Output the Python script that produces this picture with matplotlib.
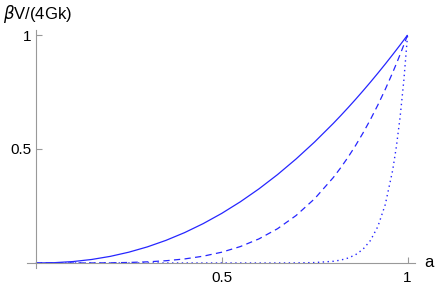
import matplotlib
matplotlib.use("Agg")
import matplotlib.pyplot as plt

a = [0, 0.05, 0.1, 0.15, 0.2, 0.25, 0.3, 0.35, 0.4, 0.45, 0.5, 0.55, 0.6, 0.65,
     0.7, 0.75, 0.8, 0.82, 0.84, 0.86, 0.88, 0.9, 0.92, 0.94, 0.96, 0.97, 0.98, 0.99, 1]
solid = [0, 0.0014, 0.0063, 0.0154, 0.029, 0.0474, 0.0707, 0.0993, 0.1332, 0.1726,
         0.2176, 0.2684, 0.325, 0.3876, 0.4563, 0.531, 0.612, 0.6462, 0.6814, 0.7176,
         0.7549, 0.7931, 0.8324, 0.8727, 0.9141, 0.9352, 0.9565, 0.9781, 1]
dashed = [0, 0, 0.00004, 0.00024, 0.00084, 0.00225, 0.005, 0.00986, 0.01774, 0.0298,
          0.0473, 0.072, 0.1056, 0.1502, 0.2082, 0.282, 0.3745, 0.4176, 0.4643, 0.515,
          0.5699, 0.629, 0.6929, 0.7616, 0.8356, 0.8746, 0.9149, 0.9567, 1]
dotted = [0, 0, 0, 0, 0, 0, 0, 0, 0, 0, 0, 0, 0.00001, 0.00008, 0.0004, 0.0018,
          0.0074, 0.0127, 0.0216, 0.0362, 0.0601, 0.0985, 0.1597, 0.2563, 0.4073,
          0.5117, 0.6412, 0.8016, 1]
xticks = [0.5, 1]
yticks = [0.5, 1]
xtick_labels = ["0.5", "1"]
ytick_labels = ["0.5", "1"]

plt.rcParams['font.family'] = ['Liberation Sans', 'DejaVu Sans']

fig = plt.figure(figsize=(4.36, 2.85), dpi=100)
ax = fig.add_axes([27/436, 1 - 268/285, (415 - 27)/436, (268 - 30)/285])

col = (0.15, 0.15, 1.0)
ax.plot(a, solid, color=col, lw=0.9, solid_capstyle='butt')
ax.plot(a, dashed, color=col, lw=0.9, linestyle=(0, (5, 3.5)))
ax.plot(a, dotted, color=col, lw=1.0, linestyle=(0, (1, 2.5)))

ax.set_xlim(-0.024, 1.02)
ax.set_ylim(-0.022, 1.022)

for s in ['top', 'right']:
    ax.spines[s].set_visible(False)
ax.spines['left'].set_position(('data', 0))
ax.spines['bottom'].set_position(('data', 0))
for s in ['left', 'bottom']:
    ax.spines[s].set_color('#999999')
    ax.spines[s].set_linewidth(0.8)

ax.set_xticks(xticks)
ax.set_xticklabels(xtick_labels)
ax.set_yticks(yticks)
ax.set_yticklabels(ytick_labels)
ax.tick_params(direction='in', length=4, width=0.8, color='#999999',
               labelsize=11, pad=3)
ax.tick_params(axis='x', pad=6)

ax.text(1.045, 0, "a", transform=ax.transData, fontsize=12,
        ha='left', va='center')
fig.text(3/436, 1 - 14/285, r"$\beta$V/(4Gk)", fontsize=12, ha='left', va='center')

fig.savefig("out.png", dpi=100)
